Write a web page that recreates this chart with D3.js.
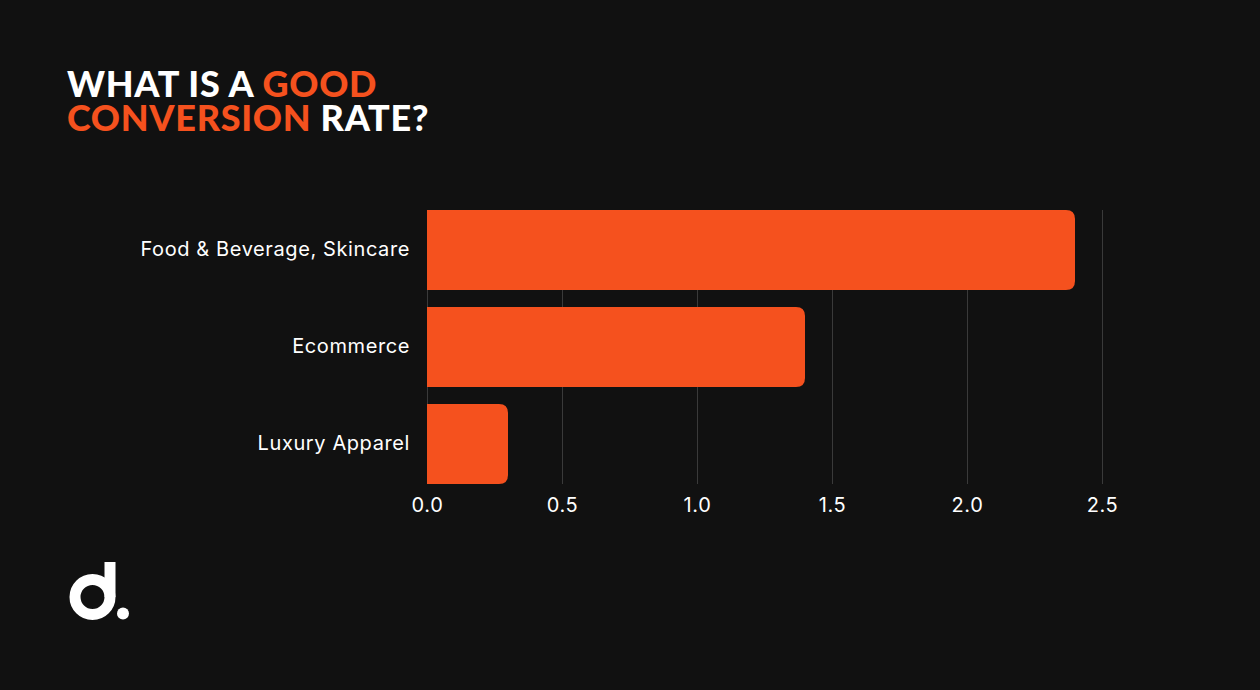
<!DOCTYPE html>
<html>
<head>
<meta charset="utf-8">
<script src="https://cdn.jsdelivr.net/npm/d3@7"></script>
<style>
  html, body { margin: 0; padding: 0; background: #111111; }
  svg { display: block; }
</style>
</head>
<body>
<div id="chart"></div>
<script>
var categories = ["Food & Beverage, Skincare", "Ecommerce", "Luxury Apparel"];
var values = [2.4, 1.4, 0.3];
var ticks = [0, 0.5, 1.0, 1.5, 2.0, 2.5];

var orange = "#F5511E";
var W = 1260, H = 690;

var svg = d3.select("#chart").append("svg")
  .attr("width", W)
  .attr("height", H)
  .style("background", "#111111");

// title, one text with two lines
var title = svg.append("text")
  .attr("x", 67).attr("y", 97)
  .style("font-family", "Lato, sans-serif")
  .style("font-weight", 900)
  .style("font-size", "36px")
  .style("letter-spacing", "0.7px");

title.append("tspan").attr("fill", "#ffffff").text("WHAT IS A ");
title.append("tspan").attr("fill", orange).text("GOOD");
title.append("tspan").attr("x", 67).attr("dy", 34).attr("fill", orange).text("CONVERSION");
title.append("tspan").attr("fill", "#ffffff").text(" RATE?");

// chart
var x = d3.scaleLinear().domain([0, 2.5]).range([427, 1102]);
var y = d3.scaleBand().domain(categories).range([210, 484])
  .paddingInner(0.175).paddingOuter(0);

// grid
svg.append("g").selectAll("line")
  .data(ticks)
  .enter().append("line")
  .attr("x1", d => x(d) + 0.5)
  .attr("x2", d => x(d) + 0.5)
  .attr("y1", 210)
  .attr("y2", 484)
  .attr("stroke", "#3a3a3a")
  .attr("stroke-width", 1);

// bars with rounded right end
var r = 9;
svg.append("g").selectAll("path")
  .data(values)
  .enter().append("path")
  .attr("fill", orange)
  .attr("d", function(d, i) {
    var x0 = x(0), x1 = x(d), y0 = y(categories[i]), h = y.bandwidth();
    return "M" + x0 + "," + y0 +
      "H" + (x1 - r) +
      "Q" + x1 + "," + y0 + " " + x1 + "," + (y0 + r) +
      "V" + (y0 + h - r) +
      "Q" + x1 + "," + (y0 + h) + " " + (x1 - r) + "," + (y0 + h) +
      "H" + x0 + "Z";
  });

// axes
var xAxis = svg.append("g")
  .attr("transform", "translate(0,484)")
  .call(d3.axisBottom(x).tickValues(ticks).tickFormat(d3.format(".1f")).tickSize(0).tickPadding(14));
xAxis.select(".domain").remove();
xAxis.selectAll("text")
  .attr("fill", "#ffffff")
  .style("font-family", "Inter, sans-serif")
  .style("font-size", "20px")
  .style("letter-spacing", "0.6px");

var yAxis = svg.append("g")
  .attr("transform", "translate(427,0)")
  .call(d3.axisLeft(y).tickSize(0).tickPadding(17));
yAxis.select(".domain").remove();
yAxis.selectAll("text")
  .attr("fill", "#ffffff")
  .style("font-family", "Inter, sans-serif")
  .style("font-size", "20px")
  .style("letter-spacing", "0.6px");

// logo "d."
var logo = svg.append("g");
logo.append("circle")
  .attr("cx", 92.5).attr("cy", 597)
  .attr("r", 17.5)
  .attr("fill", "none")
  .attr("stroke", "#ffffff")
  .attr("stroke-width", 11);
logo.append("rect")
  .attr("x", 104.5).attr("y", 562)
  .attr("width", 11).attr("height", 35)
  .attr("fill", "#ffffff");
logo.append("circle")
  .attr("cx", 123).attr("cy", 613.5)
  .attr("r", 6)
  .attr("fill", "#ffffff");
</script>
</body>
</html>
